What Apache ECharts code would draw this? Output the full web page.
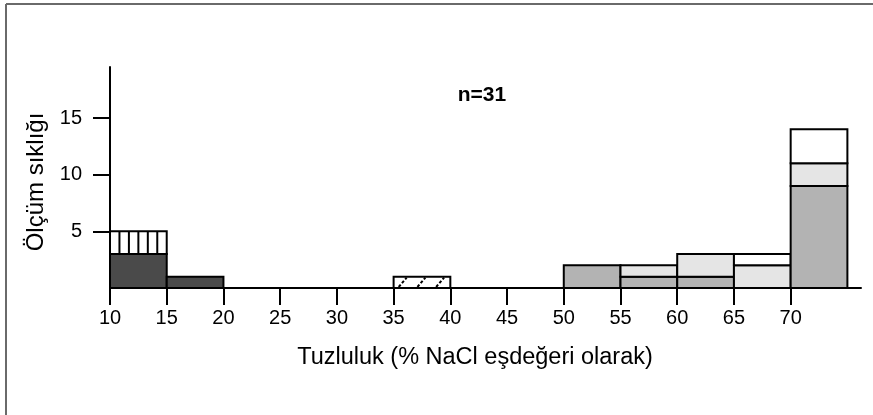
<!DOCTYPE html>
<html>
<head>
<meta charset="utf-8">
<script src="https://cdn.jsdelivr.net/npm/echarts@6/dist/echarts.min.js"></script>
<style>
html,body{margin:0;padding:0;background:#fff;}
#chart{width:873px;height:415px;}
</style>
</head>
<body>
<div id="chart"></div>
<script>
// Histogram classes (salinity, % NaCl eq.)
const binStart = [10, 10, 15, 35, 50, 55, 55, 60, 60, 65, 65, 70, 70, 70];
const binEnd   = [15, 15, 20, 40, 55, 60, 60, 65, 65, 70, 70, 75, 75, 75];
// stacked segment bottoms and tops (frequency)
const segLow   = [0, 3, 0, 0, 0, 0, 1, 0, 1, 0, 2, 0, 9, 11];
const segHigh  = [3, 5, 1, 1, 2, 1, 2, 1, 3, 2, 3, 9, 11, 14];
// fill kind: 0 dark, 1 vertical stripes, 2 mid grey, 3 light grey, 4 white, 5 diagonal hatch
const segKind  = [0, 1, 0, 5, 2, 2, 3, 2, 3, 3, 4, 2, 3, 4];
const xTicks = [10, 15, 20, 25, 30, 35, 40, 45, 50, 55, 60, 65, 70];
const yTicks = [5, 10, 15];
const titleText = 'n=31';
const xName = 'Tuzluluk (% NaCl eşdeğeri olarak)';
const yName = 'Ölçüm sıklığı';

const fills = ['#4a4a4a', '#ffffff', '#b3b3b3', '#e5e5e5', '#ffffff', '#ffffff'];
const font = '"Liberation Sans", Arial, Helvetica, sans-serif';

const data = binStart.map((s, i) => [s, binEnd[i], segLow[i], segHigh[i], segKind[i]]);

function renderItem(params, api) {
  const x0 = api.value(0), x1 = api.value(1), y0 = api.value(2), y1 = api.value(3), k = api.value(4);
  const p0 = api.coord([x0, y0]);
  const p1 = api.coord([x1, y1]);
  const x = p0[0], y = p1[1], w = p1[0] - p0[0], h = p0[1] - p1[1];
  const children = [{
    type: 'rect',
    shape: {x: x, y: y, width: w, height: h},
    style: {fill: fills[k], stroke: '#000', lineWidth: 2}
  }];
  if (k === 1) {
    for (let i = 1; i < 6; i++) {
      const xx = x + w * i / 6;
      children.push({type: 'line', shape: {x1: xx, y1: y, x2: xx, y2: y + h}, style: {stroke: '#000', lineWidth: 2}});
    }
  }
  if (k === 5) {
    const st = [0.09, 0.42, 0.75];
    st.forEach(f => {
      children.push({type: 'line',
        shape: {x1: x + w * f, y1: y + h - 1, x2: x + w * (f + 0.14), y2: y + 1},
        style: {stroke: '#000', lineWidth: 2, lineDash: [3, 2]}});
    });
  }
  return {type: 'group', children: children};
}

const chart = echarts.init(document.getElementById('chart'), null, {renderer: 'canvas'});
chart.setOption({
  animation: false,
  backgroundColor: '#fff',
  grid: {left: 110, right: 12, top: 67, bottom: 127},
  title: [
    {text: titleText, left: 477, top: 80, textAlign: 'center',
     textStyle: {fontFamily: font, fontSize: 21, fontWeight: 'bold', color: '#000'}},
    {text: xName, left: 470, top: 341, textAlign: 'center',
     textStyle: {fontFamily: font, fontSize: 23.5, fontWeight: 'normal', color: '#000'}}
  ],
  graphic: [
    {type: 'line', shape: {x1: 6, y1: 4, x2: 6, y2: 415}, style: {stroke: '#6a6a6a', lineWidth: 2}},
    {type: 'line', shape: {x1: 6, y1: 4, x2: 873, y2: 4}, style: {stroke: '#6a6a6a', lineWidth: 2}},
    {type: 'text', x: 36, y: 182, rotation: Math.PI / 2,
     style: {text: yName, fontFamily: font, fontSize: 24, fill: '#000', align: 'center', verticalAlign: 'middle'}}
  ],
  xAxis: {
    type: 'value', min: 10, max: 76.2, interval: 5,
    axisLine: {show: true, lineStyle: {color: '#000', width: 2}},
    axisTick: {show: true, length: 17, inside: false, customValues: xTicks, lineStyle: {color: '#000', width: 2}},
    axisLabel: {show: true, margin: 20, showMaxLabel: false,
      formatter: v => (xTicks.indexOf(v) >= 0 ? String(v) : ''),
      fontFamily: font, fontSize: 20, color: '#000'},
    splitLine: {show: false}
  },
  yAxis: {
    type: 'value', min: 0, max: 19.5, interval: 5,
    axisLine: {show: true, lineStyle: {color: '#000', width: 2}},
    axisTick: {show: true, length: 17, inside: false, customValues: yTicks, lineStyle: {color: '#000', width: 2}},
    axisLabel: {show: true, margin: 28, showMaxLabel: false,
      formatter: v => (yTicks.indexOf(v) >= 0 ? String(v) : ''),
      fontFamily: font, fontSize: 20, color: '#000'},
    splitLine: {show: false}
  },
  series: [{
    type: 'custom',
    renderItem: renderItem,
    encode: {x: [0, 1], y: [2, 3]},
    data: data,
    z: 1
  }]
});
</script>
</body>
</html>
